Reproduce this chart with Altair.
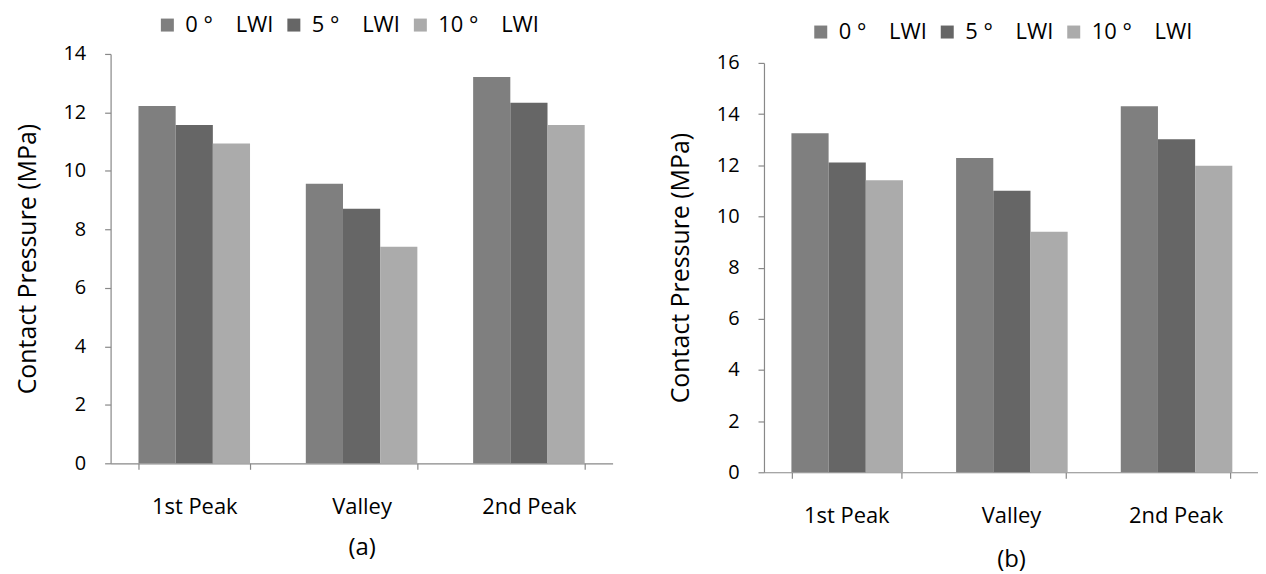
import altair as alt
import pandas as pd

categories = ["1st Peak", "Valley", "2nd Peak"]
series = ["0 °\u00a0\u00a0\u00a0\u00a0LWI", "5 °\u00a0\u00a0\u00a0\u00a0LWI", "10 °\u00a0\u00a0\u00a0\u00a0LWI"]
colors = ["#7f7f7f", "#666666", "#ababab"]

# panel (a)
a_0 = [12.22, 9.56, 13.21]
a_5 = [11.57, 8.71, 12.33]
a_10 = [10.94, 7.41, 11.57]
# panel (b)
b_0 = [13.25, 12.28, 14.31]
b_5 = [12.11, 11.00, 13.02]
b_10 = [11.41, 9.40, 11.98]

y_ticks_a = [0, 2, 4, 6, 8, 10, 12, 14]
y_ticks_b = [0, 2, 4, 6, 8, 10, 12, 14, 16]

FONT = "Open Sans"


def make_df(v0, v5, v10):
    rows = []
    for s, vals in zip(series, [v0, v5, v10]):
        for c, v in zip(categories, vals):
            rows.append({"category": c, "series": s, "value": v})
    return pd.DataFrame(rows)


def panel(df, ticks, label, lx, ly, width, height, yrange, tpad):
    yscale = alt.Scale(domain=[ticks[0], ticks[-1]], nice=False, range=yrange)
    return alt.Chart(df).mark_bar().encode(
        x=alt.X("category:N", sort=categories,
                scale=alt.Scale(paddingInner=1 / 3, paddingOuter=1 / 6),
                axis=alt.Axis(title=label, labelAngle=0, tickBand="extent",
                              tickSize=6, labelPadding=27, labelFontSize=22,
                              titleFontSize=24, titleFontWeight="normal",
                              titlePadding=tpad)),
        xOffset=alt.XOffset("series:N", sort=series,
                            scale=alt.Scale(paddingInner=0, paddingOuter=0)),
        y=alt.Y("value:Q", scale=yscale,
                axis=alt.Axis(values=ticks, title="Contact Pressure (MPa)",
                              grid=False, tickSize=6, labelPadding=19,
                              labelFontSize=20, titleFontSize=25,
                              titleFontWeight="normal", titlePadding=23)),
        color=alt.Color("series:N", sort=series,
                        scale=alt.Scale(domain=series, range=colors),
                        legend=alt.Legend(title=None, orient="none", direction="horizontal",
                                          legendX=lx, legendY=ly,
                                          symbolType="square", symbolSize=170,
                                          symbolStrokeWidth=0, labelFontSize=22,
                                          labelOffset=7, columnPadding=9,
                                          labelFont=FONT, labelColor="#000000")),
    ).properties(width=width, height=height)


left = panel(make_df(a_0, a_5, a_10), y_ticks_a, "(a)", 46, -40, 504, 411, [411, 0], 19)
right = panel(make_df(b_0, b_5, b_10), y_ticks_b, "(b)", 46, -33, 496, 420, [420, 9], 22)

chart = alt.hconcat(left, right, spacing=56).resolve_scale(
    color="independent", y="independent", x="independent"
).resolve_legend(color="independent").properties(
    padding={"left": 7, "top": 5, "right": 0, "bottom": 0}
).configure_view(stroke=None).configure_axis(
    domainColor="#888888", tickColor="#888888", labelColor="#000000",
    titleColor="#000000", labelFont=FONT, titleFont=FONT, domainWidth=1.2,
    tickWidth=1.2
).configure_mark(stroke=None)

chart.save("out.html", embed_options={"renderer": "svg", "actions": False})
